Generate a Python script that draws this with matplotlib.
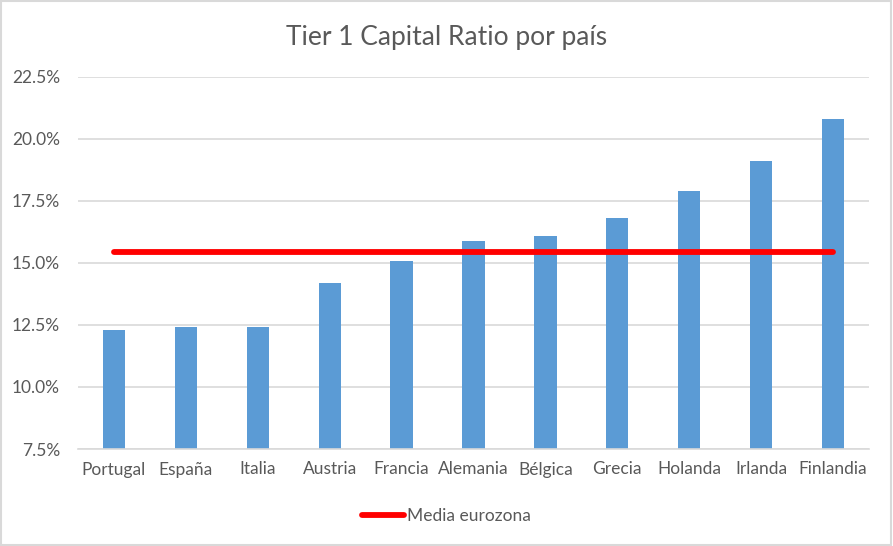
import matplotlib.pyplot as plt
from matplotlib.ticker import FuncFormatter
from matplotlib.patches import Rectangle

# Data
countries = ['Portugal', 'España', 'Italia', 'Austria', 'Francia', 'Alemania',
             'Bélgica', 'Grecia', 'Holanda', 'Irlanda', 'Finlandia']
tier1 = [12.3, 12.4, 12.4, 14.2, 15.1, 15.9, 16.1, 16.8, 17.9, 19.1, 20.8]
media_eurozona = 15.45
yticks = [7.5, 10.0, 12.5, 15.0, 17.5, 20.0, 22.5]

plt.rcParams['font.family'] = ['Lato', 'DejaVu Sans']
text_color = '#595959'

fig = plt.figure(figsize=(8.93, 5.46), dpi=100)
ax = fig.add_axes([78 / 893, 1 - 449 / 546, 791 / 893, 372 / 546])

x = list(range(len(countries)))
ax.bar(x, tier1, width=0.31, color='#5B9BD5', zorder=2)
ax.plot([x[0], x[-1]], [media_eurozona] * 2, color='#FF0000', lw=4.2,
        solid_capstyle='round', zorder=3, label='Media eurozona')

ax.set_xlim(-0.5, len(countries) - 0.5)
ax.set_ylim(7.5, 22.5)
ax.set_yticks(yticks)
ax.yaxis.set_major_formatter(FuncFormatter(lambda v, p: f'{v:.1f}%'))
ax.set_xticks(x)
ax.set_xticklabels(countries)
ax.grid(axis='y', color='#D9D9D9', lw=1.2, zorder=0)
for s in ['top', 'right', 'left']:
    ax.spines[s].set_visible(False)
ax.spines['bottom'].set_color('#D9D9D9')
ax.spines['bottom'].set_linewidth(1.2)
ax.tick_params(length=0, labelsize=12.5, labelcolor=text_color)
ax.tick_params(axis='x', pad=9)
ax.tick_params(axis='y', pad=13)

fig.text(0.5, 1 - 37 / 546, 'Tier 1 Capital Ratio por país', ha='center',
         va='center', fontsize=19, color=text_color)

fig.legend(loc='center', bbox_to_anchor=(0.5, 1 - 516 / 546), frameon=False,
           fontsize=12.5, labelcolor=text_color, handlelength=2.4,
           handletextpad=0.2)

# light border around the chart
fig.patches.append(Rectangle((0.001, 0.001), 0.997, 0.997, transform=fig.transFigure,
                             fill=False, edgecolor='#D9D9D9', lw=1.5))

fig.savefig('out.png', dpi=100)
